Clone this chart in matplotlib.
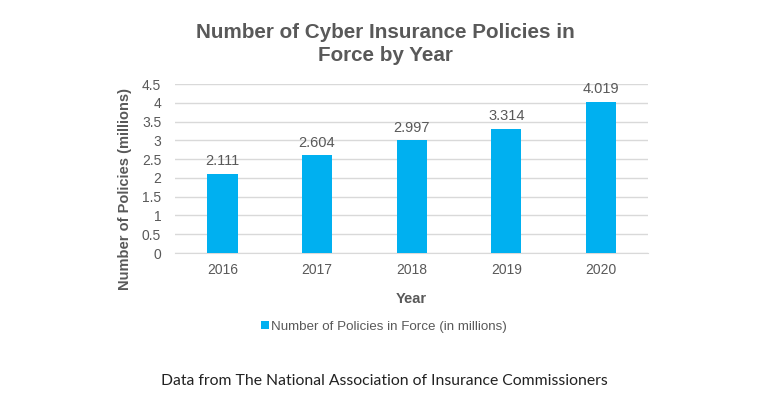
import matplotlib.pyplot as plt

# Cyber insurance policies in force (NAIC)
years = ["2016", "2017", "2018", "2019", "2020"]
policies = [2.111, 2.604, 2.997, 3.314, 4.019]
y_ticks = [0, 0.5, 1, 1.5, 2, 2.5, 3, 3.5, 4, 4.5]
y_tick_labels = ["0", "0.5", "1", "1.5", "2", "2.5", "3", "3.5", "4", "4.5"]

gray = "#595959"
blue = "#00B0F0"

plt.rcParams["font.family"] = ["Liberation Sans", "DejaVu Sans"]

fig = plt.figure(figsize=(7.68, 4.11), dpi=100)
ax = fig.add_axes([0.228, 0.3844, 0.616, 0.4112])

x = range(len(years))
bars = ax.bar(x, policies, width=0.32, color=blue, label="Number of Policies in Force (in millions)", zorder=3)
for xi, v in zip(x, policies):
    ax.text(xi, v + 0.15, f"{v:.3f}", ha="center", va="bottom", fontsize=10.5, color=gray)

ax.set_xlim(-0.5, len(years) - 0.5)
ax.set_ylim(0, 4.5)
ax.set_xticks(list(x))
ax.set_xticklabels(years)
ax.set_yticks(y_ticks)
ax.set_yticklabels(y_tick_labels)
ax.tick_params(length=0, labelsize=10, colors=gray)
ax.tick_params(axis="x", pad=7)
ax.tick_params(axis="y", pad=10)
ax.grid(axis="y", color="#D9D9D9", linewidth=1, zorder=0)
for s in ["top", "right", "left"]:
    ax.spines[s].set_visible(False)
ax.spines["bottom"].set_color("#D9D9D9")

ax.set_xlabel("Year", fontsize=10.5, fontweight="bold", color=gray, labelpad=11)
ax.set_ylabel("Number of Policies (millions)", fontsize=10.5, fontweight="bold", color=gray)
ax.yaxis.set_label_coords(-0.092, 0.38)

fig.text(0.502, 0.945, "Number of Cyber Insurance Policies in\nForce by Year", ha="center", va="top",
         fontsize=14.9, fontweight="bold", color=gray, linespacing=1.3)

leg = fig.legend(handles=[bars], labels=["Number of Policies in Force (in millions)"], loc="center",
                 bbox_to_anchor=(0.5, 0.205), frameon=False, fontsize=9.6, handlelength=0.55,
                 handleheight=0.55, handletextpad=0.15)
for t in leg.get_texts():
    t.set_color(gray)

fig.text(0.501, 0.073, "Data from The National Association of Insurance Commissioners", ha="center",
         va="center", fontsize=11.3, color="#222222", family=["Lato", "DejaVu Sans"])

fig.savefig("out.png", dpi=100, facecolor="white")
